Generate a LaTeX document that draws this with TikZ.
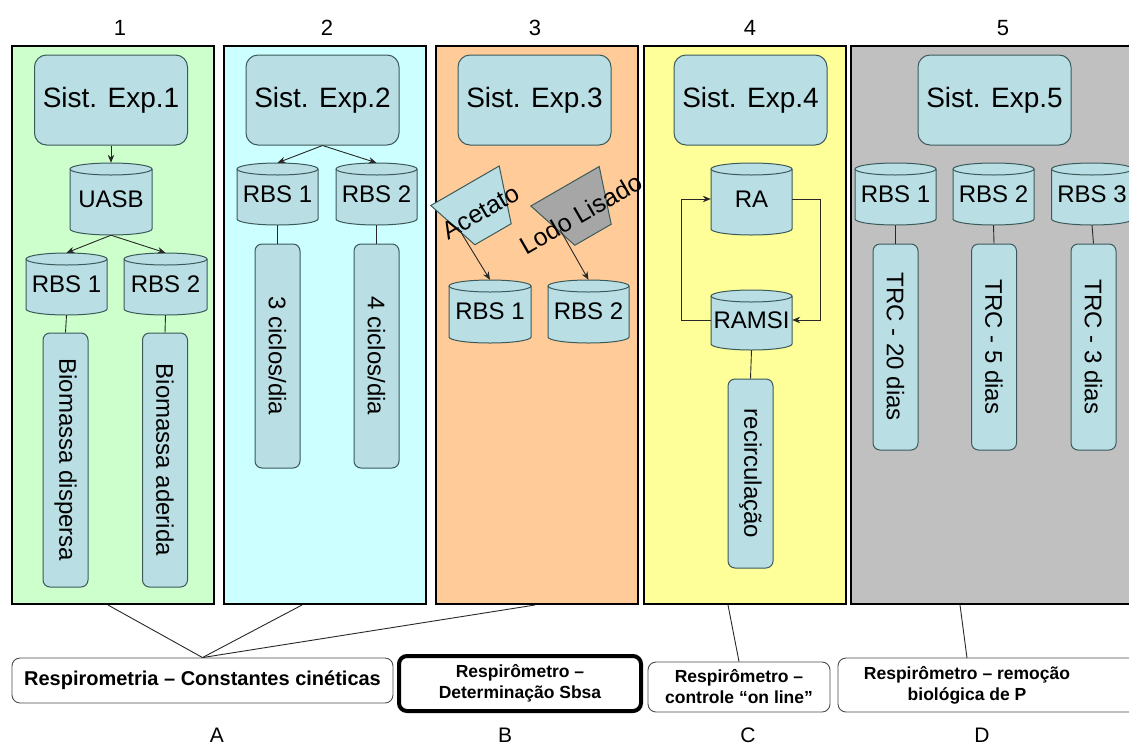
\documentclass[tikz,border=0pt]{standalone}
\usepackage{fontspec}
\setmainfont{Liberation Sans}
\usetikzlibrary{arrows.meta,calc}

\definecolor{nodefill}{RGB}{185,222,228}
\definecolor{nodeedge}{RGB}{60,90,90}
\definecolor{pgreen}{RGB}{204,255,204}
\definecolor{pcyan}{RGB}{204,255,255}
\definecolor{ppeach}{RGB}{255,204,153}
\definecolor{pyellow}{RGB}{255,255,153}
\definecolor{pgray}{RGB}{192,192,192}
\definecolor{sludge}{RGB}{166,166,166}
\definecolor{wirecol}{RGB}{40,40,40}

\tikzset{
  panel/.style={draw=black, line width=2.6pt, minimum width=202, minimum height=558, inner sep=0pt},
  sist/.style={draw=nodeedge, fill=nodefill, line width=1pt, rounded corners=12pt,
    minimum width=153, minimum height=90, inner sep=0pt, font=\fontsize{28}{32}\selectfont},
  bar/.style={draw=nodeedge, fill=nodefill, line width=1pt, rounded corners=7pt, rotate=-90,
    minimum height=45, inner sep=0pt, font=\fontsize{24}{28}\selectfont},
  drumbody/.style={draw=nodeedge, fill=nodefill, line width=1pt},
  drumnode/.style={inner sep=0pt, font=\fontsize{24}{28}\selectfont},
  feed/.style={draw=nodeedge, line width=1pt},
  feedtext/.style={inner sep=0pt, font=\fontsize{25}{28}\selectfont, rotate=30},
  wire/.style={draw=wirecol, line width=0.9pt},
  flow/.style={wire, -{Stealth[length=8pt,width=6.5pt]}},
  num/.style={font=\fontsize{22}{26}\selectfont},
  tag/.style={draw=black!70, line width=0.9pt, rounded corners=8pt, fill=white, inner sep=0pt,
    align=center, font=\bfseries\fontsize{17.5}{21}\selectfont},
}

% \drum{name}{centre x}{top y}{bottom y}{width}{text}: an upright cylinder
\newcommand\drum[6]{%
  \pgfmathsetmacro\dL{#2-#5/2}%
  \pgfmathsetmacro\dR{#2+#5/2}%
  \pgfmathsetmacro\dRx{#5/2}%
  \filldraw[drumbody] (\dL,#3+6) -- (\dL,#4-6)
    arc[start angle=180,end angle=0,x radius=\dRx,y radius=6]
    -- (\dR,#3+6)
    arc[start angle=0,end angle=-180,x radius=\dRx,y radius=6] -- cycle;
  \draw[drumbody, fill=none] (\dL,#3+6) arc[start angle=180,end angle=0,x radius=\dRx,y radius=6];
  \node[drumnode, minimum width=#5, minimum height=#4-#3] (#1) at (#2,{(#3+#4)/2}) {\raisebox{-4pt}{#6}};
}

\begin{document}
\begin{tikzpicture}[x=1pt,y=-1pt]
  \useasboundingbox (0,0) rectangle (1129,745);
  \clip (0,0) rectangle (1129,745);
  \fill[white] (0,0) rectangle (1129,745);

  % column numbers
  \node[num] (n1) at (120,28) {1};
  \node[num] (n2) at (327,28) {2};
  \node[num] (n3) at (535,28) {3};
  \node[num] (n4) at (750,28) {4};
  \node[num] (n5) at (1003,28) {5};

  % panels
  \node[panel, fill=pgreen]  (p1) at (113,325) {};
  \node[panel, fill=pcyan]   (p2) at (325,325) {};
  \node[panel, fill=ppeach]  (p3) at (537,325) {};
  \node[panel, fill=pyellow] (p4) at (745,325) {};
  \node[panel, fill=pgray, minimum width=300] (p5) at (1001,325) {};

  % experimental systems
  \node[sist] (s1) at (111,100)   {Sist. Exp.1};
  \node[sist] (s2) at (322.5,100) {Sist. Exp.2};
  \node[sist] (s3) at (534.5,100) {Sist. Exp.3};
  \node[sist] (s4) at (750.5,100) {Sist. Exp.4};
  \node[sist] (s5) at (994.5,100) {Sist. Exp.5};

  % system 1
  \drum{uasb}{111}{163}{235}{82}{UASB}
  \drum{r11}{66.5}{253}{315}{81}{RBS 1}
  \drum{r12}{165.5}{253}{315}{83}{RBS 2}
  \node[bar, minimum width=254] (bd) at (65.5,460) {Biomassa dispersa};
  \node[bar, minimum width=254] (ba) at (165,460) {Biomassa aderida};
  \draw[flow] (s1.south) -- (uasb.north);
  \draw[flow] (uasb.south) -- (r11.north);
  \draw[flow] (uasb.south) -- (r12.north);
  \draw[wire] (r11.south) -- (bd.west);
  \draw[wire] (r12.south) -- (ba.west);

  % system 2
  \drum{r21}{277.5}{163}{225}{81}{RBS 1}
  \drum{r22}{376.5}{163}{225}{81}{RBS 2}
  \node[bar, minimum width=224] (c3) at (277.5,356) {3 ciclos/dia};
  \node[bar, minimum width=224] (c4) at (376.5,356) {4 ciclos/dia};
  \draw[flow] (s2.south) -- (r21.north);
  \draw[flow] (s2.south) -- (r22.north);
  \draw[wire] (r21.south) -- (c3.west);
  \draw[wire] (r22.south) -- (c4.west);

  % system 3: substrate feeds
  \begin{scope}[shift={(479,210)}, rotate=30]
    \filldraw[feed, fill=nodefill] (-39.5,-28) -- (39.5,-28) -- (21,28) -- (-21,28) -- cycle;
    \coordinate (acsrc) at (-27,4);
  \end{scope}
  \node[feedtext] (acet) at (481,212) {Acetato};
  \begin{scope}[shift={(579,210.5)}, rotate=30]
    \filldraw[feed, fill=sludge] (-39.5,-28) -- (39.5,-28) -- (21,28) -- (-21,28) -- cycle;
    \coordinate (llsrc) at (-26,7);
  \end{scope}
  \node[feedtext] (lodo) at (581,214) {Lodo Lisado};
  \drum{r31}{490}{280}{343}{82}{RBS 1}
  \drum{r32}{588.5}{280}{343}{81}{RBS 2}
  \draw[flow] (acsrc) -- (r31.north);
  \draw[flow] (llsrc) -- (r32.north);

  % system 4: recirculation loop
  \drum{ra}{751.5}{163}{235}{81}{RA}
  \drum{ramsi}{751.5}{290}{350}{81}{RAMSI}
  \node[bar, minimum width=189] (rec) at (750.5,473.5) {recirculação};
  \draw[flow] (ramsi.west) -- ++(-29,0) |- (ra.west);
  \draw[flow] (ra.east) -- ++(28,0) |- (ramsi.east);
  \draw[wire] (ramsi.south) -- (rec.west);

  % system 5
  \drum{r51}{895.5}{163}{225}{81}{RBS 1}
  \drum{r52}{993.5}{163}{225}{81}{RBS 2}
  \drum{r53}{1092}{163}{225}{81}{RBS 3}
  \node[bar, minimum width=206] (t20) at (895.5,347) {TRC - 20 dias};
  \node[bar, minimum width=206] (t5)  at (994,347)   {TRC - 5 dias};
  \node[bar, minimum width=206] (t3)  at (1093.5,347) {TRC - 3 dias};
  \draw[wire] (r51.south) -- (t20.west);
  \draw[wire] (r52.south) -- (t5.west);
  \draw[wire] (r53.south) -- (t3.west);

  % techniques
  \node[tag, minimum width=381, minimum height=45, font=\bfseries\fontsize{20}{24}\selectfont]
    (ta) at (202.5,680.5) {Respirometria -- Constantes cinéticas};
  \node[tag, draw=black, line width=4pt, minimum width=242, minimum height=55]
    (tb) at (520,683.5) {Respirômetro --\\Determinação Sbsa};
  \node[tag, minimum width=182, minimum height=50]
    (tc) at (739,687) {Respirômetro --\\controle “on line”};
  \node[tag, minimum width=302, minimum height=54] (td) at (989,685) {};
  \node[inner sep=0pt, align=center, font=\bfseries\fontsize{17.5}{21}\selectfont]
    (tdtext) at (967,685) {Respirômetro -- remoção\\biológica de P};

  % panel-to-technique links
  \coordinate (o1) at (108,605);
  \coordinate (o2) at (302,605);
  \coordinate (o3) at (535,605);
  \coordinate (o4) at (728,605);
  \coordinate (o5) at (960,605);
  \coordinate (dtop) at (967,658);
  \draw[wire] (o1) -- (ta.north);
  \draw[wire] (o2) -- (ta.north);
  \draw[wire] (o3) -- (ta.north);
  \draw[wire] (o4) -- (tc.north);
  \draw[wire] (o5) -- (dtop);

  % technique letters
  \node[num, font=\fontsize{21}{24}\selectfont] (la) at (217,735) {A};
  \node[num, font=\fontsize{21}{24}\selectfont] (lb) at (505,735) {B};
  \node[num, font=\fontsize{21}{24}\selectfont] (lc) at (748,735) {C};
  \node[num, font=\fontsize{21}{24}\selectfont] (ld) at (982,735) {D};
\end{tikzpicture}
\end{document}
